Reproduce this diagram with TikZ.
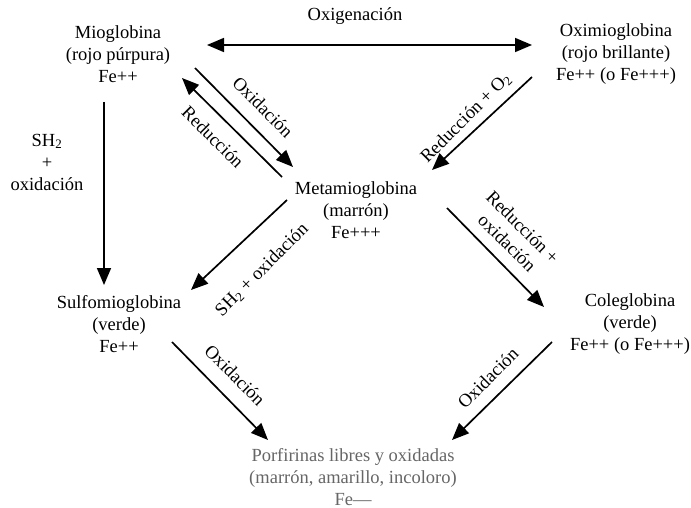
\documentclass[tikz,border=0pt]{standalone}
\usepackage{fontspec}
\setmainfont{Liberation Serif}
\usetikzlibrary{arrows.meta}
\begin{document}
\begin{tikzpicture}[x=1pt,y=-1pt,
  every node/.style={font=\fontsize{18.5}{22}\selectfont, inner sep=0pt},
  species/.style={align=center},
  arr/.style={line width=1.7pt, -{Triangle[length=17pt,width=14pt]}},
  darr/.style={line width=1.7pt, {Triangle[length=17pt,width=14pt]}-{Triangle[length=17pt,width=14pt]}},
  lbl/.style={align=center}]
\fill[white] (0,0) rectangle (691,508);
\useasboundingbox (0,0) rectangle (691,508);

% species
\node[species] (mio) at (118,54) {Mioglobina\\(rojo púrpura)\\Fe++};
\node[species] (oxi) at (616,54) {Oximioglobina\\(rojo brillante)\\Fe++ (o Fe+++)};
\node[species] (meta) at (356,210) {Metamioglobina\\(marrón)\\Fe+++};
\node[species] (sulfo) at (119,324) {Sulfomioglobina\\(verde)\\Fe++};
\node[species] (cole) at (630,324) {Coleglobina\\(verde)\\Fe++ (o Fe+++)};
\node[species, text=black!60] (porf) at (353,477) {Porfirinas libres y oxidadas\\(marrón, amarillo, incoloro)\\Fe---};

% arrow end points
\coordinate (oxL) at (207,45);
\coordinate (oxR) at (532,45);
\coordinate (mmA) at (195,68);
\coordinate (mmB) at (293,167);
\coordinate (rmA) at (282,177);
\coordinate (rmB) at (182,78);
\coordinate (omA) at (532,77);
\coordinate (omB) at (432,170);
\coordinate (msA) at (287,200);
\coordinate (msB) at (191,290);
\coordinate (mcA) at (447,208);
\coordinate (mcB) at (544,307);
\coordinate (vsA) at (104,102);
\coordinate (vsB) at (104,285);
\coordinate (spA) at (172,342);
\coordinate (spB) at (268,440);
\coordinate (cpA) at (552,342);
\coordinate (cpB) at (452,440);

% connectors
\draw[darr] (oxL) -- (oxR);
\draw[arr] (mmA) -- (mmB);
\draw[arr] (rmA) -- (rmB);
\draw[arr] (omA) -- (omB);
\draw[arr] (msA) -- (msB);
\draw[arr] (mcA) -- (mcB);
\draw[arr] (vsA) -- (vsB);
\draw[arr] (spA) -- (spB);
\draw[arr] (cpA) -- (cpB);

% labels
\node (lOxig) at (355,16) {Oxigenación};
\node[lbl] (lSH) at (47,162) {SH\textsubscript{2}\\+\\oxidación};
\node[rotate=-45] (lOx1) at (263,107) {Oxidación};
\node[rotate=-45] (lRed1) at (213,137) {Reducción};
\node[rotate=45] (lRedO) at (466,118) {Reducción + O\textsubscript{2}};
\node[rotate=45] (lSHox) at (262,270) {SH\textsubscript{2} + oxidación};
\node[lbl, rotate=-45] (lRedOx) at (515,235) {Reducción +\\oxidación};
\node[rotate=-45] (lOx2) at (235,375) {Oxidación};
\node[rotate=45] (lOx3) at (488,378) {Oxidación};
\end{tikzpicture}
\end{document}
